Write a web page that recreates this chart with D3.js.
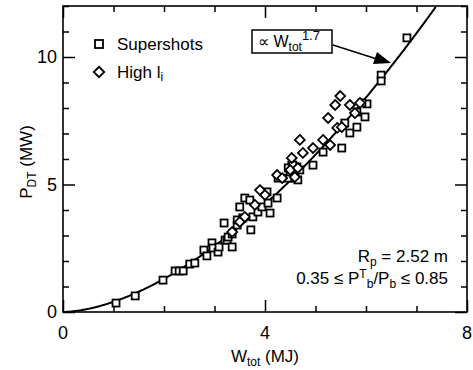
<!DOCTYPE html>
<html>
<head>
<meta charset="utf-8">
<script src="https://cdn.jsdelivr.net/npm/d3@7"></script>
<style>
body { margin: 0; background: #fff; }
text { font-family: "Liberation Sans", Arial, sans-serif; fill: #000; }
</style>
</head>
<body>
<svg id="chart"></svg>
<script>
// donnees
const supershots = [
  [1.05,0.35],[1.43,0.63],[1.98,1.25],[2.22,1.61],[2.30,1.61],[2.38,1.61],[2.51,1.88],[2.61,1.92],
  [2.79,2.43],[2.85,2.20],[2.95,2.71],[2.97,2.51],[3.07,2.35],[3.09,2.55],[3.19,3.49],[3.21,2.82],
  [3.25,2.82],[3.27,2.94],[3.35,3.06],[3.35,2.55],[3.45,3.41],[3.45,3.61],[3.50,4.12],[3.56,3.69],
  [3.60,4.47],[3.70,4.39],[3.72,3.22],[3.76,3.73],[3.86,3.92],[3.94,4.12],[4.04,4.71],[4.06,4.27],
  [4.10,3.88],[4.24,4.47],[4.26,5.25],[4.46,5.25],[4.50,5.49],[4.53,5.76],[4.63,5.69],[4.59,5.25],
  [4.65,5.18],[4.46,5.65],[4.55,5.76],[4.69,5.57],[4.95,5.76],[5.15,6.27],[5.52,6.43],[5.68,7.02],
  [5.82,7.25],[5.58,7.41],[5.82,7.84],[5.98,7.65],[6.02,8.16],[5.92,8.20],[6.30,9.29],[6.30,9.06],
  [6.81,10.75]
];
const highLi = [
  [3.35,3.14],[3.50,3.53],[3.60,3.73],[3.80,4.20],[3.90,4.78],[4.00,4.59],[4.24,5.37],[4.34,5.25],
  [4.53,6.04],[4.50,5.57],[4.65,5.65],[4.59,5.29],[4.69,6.75],[4.75,6.24],[4.95,6.43],[5.15,6.75],
  [5.29,6.55],[5.43,7.22],[5.52,7.25],[5.25,7.61],[5.39,8.12],[5.49,8.47],[5.68,8.12],[5.78,7.80],
  [5.88,8.20]
];
const coef = 0.40, expo = 1.7;
const xTicks = [0,1,2,3,4,5,6,7,8], xLabels = [0,4,8];
const yTicks = [0,1,2,3,4,5,6,7,8,9,10,11,12], yLabels = [0,5,10];

const W = 473, H = 370;
const margin = {top: 6, right: 6, bottom: 58, left: 63};
const width = W - margin.left - margin.right,
      height = H - margin.top - margin.bottom;

const svg = d3.select("#chart").attr("width", W).attr("height", H);
const g = svg.append("g").attr("transform", `translate(${margin.left},${margin.top})`);

const x = d3.scaleLinear().domain([0, 8]).range([0, width]);
const y = d3.scaleLinear().domain([0, 12]).range([height, 0]);

// cadre
g.append("rect").attr("width", width).attr("height", height)
  .attr("fill", "none").attr("stroke", "#000").attr("stroke-width", 1.6);

// graduations vers l'interieur sur les quatre cotes
function ticks(axisFn, scale, vals, big, tr) {
  g.append("g").attr("transform", tr)
    .call(axisFn(scale).tickValues(vals.filter(v => !big.includes(v))).tickSize(-6).tickFormat(""));
  g.append("g").attr("transform", tr)
    .call(axisFn(scale).tickValues(big).tickSize(-12).tickFormat(""));
  g.selectAll(".domain").remove();
}
ticks(d3.axisBottom, x, xTicks, xLabels, `translate(0,${height})`);
ticks(d3.axisTop, x, xTicks, xLabels, "translate(0,0)");
ticks(d3.axisLeft, y, yTicks, yLabels, "translate(0,0)");
ticks(d3.axisRight, y, yTicks, yLabels, `translate(${width},0)`);
g.selectAll(".tick line").attr("stroke", "#000").attr("stroke-width", 1.5);

// etiquettes
g.selectAll(".xl").data(xLabels).enter().append("text")
  .attr("x", d => x(d)).attr("y", height + 27)
  .attr("text-anchor", "middle").style("font-size", "18px").text(d => d);
g.selectAll(".yl").data(yLabels).enter().append("text")
  .attr("x", -6).attr("y", d => y(d) + 6)
  .attr("text-anchor", "end").style("font-size", "18px").text(d => d);

// titres des axes
const xt = svg.append("text").attr("x", margin.left + x(4)).attr("y", 362)
  .attr("text-anchor", "middle").style("font-size", "17px");
xt.append("tspan").text("W");
xt.append("tspan").attr("dy", 4).style("font-size", "12px").text("tot");
xt.append("tspan").attr("dy", -4).text(" (MJ)");

const yt = svg.append("text").attr("transform", "translate(32,162) rotate(-90)")
  .attr("text-anchor", "middle").style("font-size", "17px");
yt.append("tspan").text("P");
yt.append("tspan").attr("dy", 4).style("font-size", "12px").text("DT");
yt.append("tspan").attr("dy", -4).text(" (MW)");

// courbe en loi de puissance
const curve = d3.range(0, 7.6, 0.02).map(w => [w, coef * Math.pow(w, expo)]).filter(d => d[1] <= 12);
g.append("path").datum(curve)
  .attr("d", d3.line().x(d => x(d[0])).y(d => y(d[1])))
  .attr("fill", "none").attr("stroke", "#000").attr("stroke-width", 2);

// points
g.selectAll(".sq").data(supershots).enter().append("rect")
  .attr("x", d => x(d[0]) - 3.5).attr("y", d => y(d[1]) - 3.5)
  .attr("width", 7).attr("height", 7)
  .attr("fill", "#fff").attr("stroke", "#000").attr("stroke-width", 1.8);
const dia = d3.symbol().type(d3.symbolDiamond2).size(62);
g.selectAll(".di").data(highLi).enter().append("path")
  .attr("d", dia).attr("transform", d => `translate(${x(d[0])},${y(d[1])})`)
  .attr("fill", "#fff").attr("stroke", "#000").attr("stroke-width", 1.8);

// legende
const leg = g.append("g");
leg.append("rect").attr("x", 32).attr("y", 34).attr("width", 8).attr("height", 8)
  .attr("fill", "#fff").attr("stroke", "#000").attr("stroke-width", 1.8);
leg.append("path").attr("d", d3.symbol().type(d3.symbolDiamond2).size(70))
  .attr("transform", "translate(36,66)")
  .attr("fill", "#fff").attr("stroke", "#000").attr("stroke-width", 1.8);
leg.append("text").attr("x", 54).attr("y", 44).style("font-size", "17px").text("Supershots");
const hl = leg.append("text").attr("x", 54).attr("y", 72).style("font-size", "17px");
hl.append("tspan").text("High l");
hl.append("tspan").attr("dy", 3).style("font-size", "12px").text("i");

// annotation
svg.append("rect").attr("x", 252).attr("y", 30).attr("width", 80).attr("height", 23)
  .attr("fill", "#fff").attr("stroke", "#000").attr("stroke-width", 1.5);
const an = svg.append("text").attr("x", 258).attr("y", 47).style("font-size", "16px");
an.append("tspan").text("\u221D W");
an.append("tspan").attr("dy", 4).style("font-size", "12px").text("tot");
an.append("tspan").attr("dy", -11).style("font-size", "13px").text("1.7");
svg.append("line").attr("x1", 333).attr("y1", 45).attr("x2", 380).attr("y2", 60)
  .attr("stroke", "#000").attr("stroke-width", 1.6);
svg.append("path").attr("d", "M391,63L373,64L377,52Z").attr("fill", "#000");

// parametres
const p1 = svg.append("text").attr("x", 448).attr("y", 262).attr("text-anchor", "end").style("font-size", "17px");
p1.append("tspan").text("R");
p1.append("tspan").attr("dy", 4).style("font-size", "12px").text("p");
p1.append("tspan").attr("dy", -4).text(" = 2.52 m");
const p2 = svg.append("text").attr("x", 448).attr("y", 284).attr("text-anchor", "end").style("font-size", "17px");
p2.append("tspan").text("0.35 \u2264 P");
p2.append("tspan").attr("dy", -6).style("font-size", "12px").text("T");
p2.append("tspan").attr("dy", 10).style("font-size", "12px").text("b");
p2.append("tspan").attr("dy", -4).text("/P");
p2.append("tspan").attr("dy", 4).style("font-size", "12px").text("b");
p2.append("tspan").attr("dy", -4).text(" \u2264 0.85");
</script>
</body>
</html>
